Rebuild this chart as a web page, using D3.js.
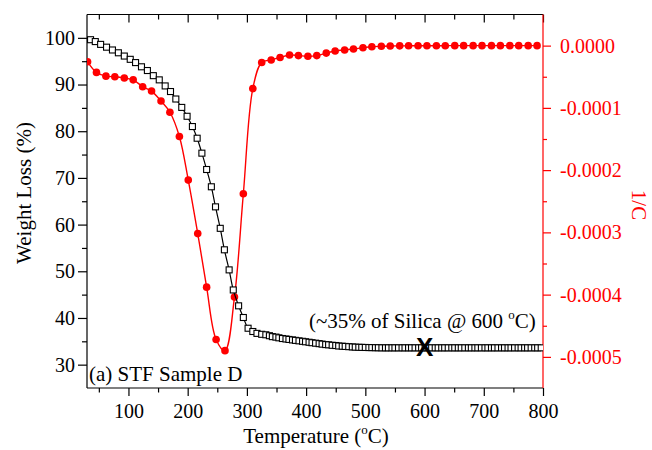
<!DOCTYPE html>
<html>
<head>
<meta charset="utf-8">
<script src="https://cdn.jsdelivr.net/npm/d3@7"></script>
<style>
  body { margin: 0; background: #fff; }
  svg { display: block; }
  text { font-family: "Liberation Serif", "Times New Roman", serif; }
</style>
</head>
<body>
<svg id="chart" width="652" height="450"></svg>
<script>
// TGA weight loss (left axis) and its derivative (right axis) vs temperature
const weightTemp = [36,44,53,63,73,83,93,103,112,122,132,142,152,162,171,180,190,199,208,216,224,232,240,247,255,262,270,277,286,294,302,310,317,325,332,
  338,343,349,354,360,366,371,377,382,388,
  394,399,405,410,416,422,427,433,438,444,
  450,455,461,466,472,478,483,489,494,500,
  506,511,517,522,528,534,539,545,550,556,
  562,567,573,578,584,590,595,601,606,612,
  618,623,629,634,640,646,651,657,662,668,
  674,679,685,690,696,702,707,713,718,724,
  730,735,741,746,752,758,763,769,774,780,
  786,791,797];
const weightVal = [99.6,99.2,98.6,98.0,97.4,96.8,96.1,95.4,94.7,93.8,93.0,91.9,91.0,89.7,88.5,86.9,85.1,83.2,81.0,78.5,75.3,71.8,68.1,63.8,59.2,54.6,50.3,46.0,42.6,40.1,37.8,37.1,36.7,36.5,36.4,
  36.2,36.0,35.9,35.75,35.6,35.5,35.4,35.3,35.2,35.1,
  35.0,34.9,34.8,34.7,34.6,34.5,34.4,34.3,34.25,34.15,
  34.1,34.0,33.95,33.9,33.85,33.8,33.75,33.72,33.7,33.68,
  33.66,33.65,33.63,33.62,33.6,33.6,33.6,33.6,33.6,33.6,
  33.6,33.6,33.6,33.6,33.6,33.6,33.6,33.6,33.6,33.6,
  33.6,33.6,33.6,33.6,33.6,33.6,33.6,33.6,33.6,33.6,
  33.6,33.6,33.6,33.6,33.6,33.6,33.6,33.6,33.6,33.6,
  33.6,33.6,33.6,33.6,33.6,33.6,33.6,33.6,33.6,33.6,
  33.6,33.6,33.6];

const derivTemp = [31,46,62,77,93,108,124,139,155,170,186,201,217,232,248,263,279,294,310,325,341,356,372,387,403,418,434,449,465,480,496,511,527,542,558,573,589,604,620,635,651,666,682,697,713,728,744,759,775,790];
const derivVal = [-0.000026,-0.000043,-0.000049,-0.000050,-0.000052,-0.000055,-0.000066,-0.000073,-0.000089,-0.000107,-0.000146,-0.000216,-0.000302,-0.000388,-0.000472,-0.000490,-0.000404,-0.000238,-0.000069,-0.000027,-0.000023,-0.000019,-0.000015,-0.000016,-0.000017,-0.000016,-0.000012,-0.0000086,-0.000007,-0.0000054,-0.0000033,-0.0000017,-0.0000011,-0.0000006,-0.0000004,-0.0000003,-0.0000002,-0.0000002,-0.0000001,-0.0000001,0,0,0,0,0,0,0,0,0,0];

const xMajor = [100,200,300,400,500,600,700,800];
const xMinor = [50,150,250,350,450,550,650,750];
const yLeftMajor = [30,40,50,60,70,80,90,100];
const yLeftMinor = [35,45,55,65,75,85,95];
const yRightMajor = [0,-0.0001,-0.0002,-0.0003,-0.0004,-0.0005];
const yRightMinor = [-0.00005,-0.00015,-0.00025,-0.00035,-0.00045];

const silicaMark = [600, 33.85];

(function () {
  const mLeft = 87, mRight = 543, mTop = 14.5, mBottom = 388;
  const red = "#ff0000";

  const svg = d3.select("#chart");
  const x = d3.scaleLinear().domain([30, 800]).range([mLeft, mRight]);
  const yL = d3.scaleLinear().domain([25, 105]).range([mBottom, mTop]);
  const yR = d3.scaleLinear().domain([-0.00055, 0.00005]).range([mBottom, mTop]);

  svg.append("defs").append("clipPath").attr("id", "plotClip")
    .append("rect").attr("x", mLeft).attr("y", mTop).attr("width", mRight - mLeft).attr("height", mBottom - mTop);

  function styleAxis(g, color) {
    g.select(".domain").remove();
    g.selectAll("line").attr("stroke", color).attr("stroke-width", 1.2);
    g.selectAll("text").attr("fill", color).attr("font-size", 20)
      .style("font-family", '"Liberation Serif", "Times New Roman", serif');
  }

  // bottom axis
  const gB = svg.append("g").attr("transform", `translate(0,${mBottom})`)
    .call(d3.axisBottom(x).tickValues(xMajor).tickSize(8).tickPadding(6).tickFormat(d3.format("d")));
  styleAxis(gB, "#000");
  gB.selectAll("text").attr("dy", "0.71em").attr("y", 16);
  const gBm = svg.append("g").attr("transform", `translate(0,${mBottom})`)
    .call(d3.axisBottom(x).tickValues(xMinor).tickSize(4.5).tickFormat(""));
  styleAxis(gBm, "#000");

  // top mirror axis, ticks pointing inward
  const gT = svg.append("g").attr("transform", `translate(0,${mTop})`)
    .call(d3.axisBottom(x).tickValues(xMajor).tickSize(8).tickFormat(""));
  styleAxis(gT, "#000");
  const gTm = svg.append("g").attr("transform", `translate(0,${mTop})`)
    .call(d3.axisBottom(x).tickValues(xMinor).tickSize(5).tickFormat(""));
  styleAxis(gTm, "#000");

  // left axis
  const gL = svg.append("g").attr("transform", `translate(${mLeft},0)`)
    .call(d3.axisLeft(yL).tickValues(yLeftMajor).tickSize(9).tickPadding(3).tickFormat(d3.format("d")));
  styleAxis(gL, "#000");
  const gLm = svg.append("g").attr("transform", `translate(${mLeft},0)`)
    .call(d3.axisLeft(yL).tickValues(yLeftMinor).tickSize(5).tickFormat(""));
  styleAxis(gLm, "#000");

  // right axis (derivative)
  const gR = svg.append("g").attr("transform", `translate(${mRight},0)`)
    .call(d3.axisRight(yR).tickValues(yRightMajor).tickSize(8).tickPadding(9).tickFormat(d => d.toFixed(4)));
  styleAxis(gR, red);
  const gRm = svg.append("g").attr("transform", `translate(${mRight},0)`)
    .call(d3.axisRight(yR).tickValues(yRightMinor).tickSize(4).tickFormat(""));
  styleAxis(gRm, red);

  // frame lines
  const frame = (x1, y1, x2, y2, c) => svg.append("line")
    .attr("x1", x1).attr("y1", y1).attr("x2", x2).attr("y2", y2)
    .attr("stroke", c).attr("stroke-width", 1.2);
  frame(mLeft, mTop, mRight, mTop, "#000");
  frame(mLeft, mBottom, mRight, mBottom, "#000");
  frame(mLeft, mTop, mLeft, mBottom, "#000");
  frame(mRight, mTop, mRight, mBottom, red);

  const plot = svg.append("g").attr("clip-path", "url(#plotClip)");

  // derivative curve
  const derivData = derivTemp.map((t, i) => [t, derivVal[i]]);
  plot.append("path").datum(derivData)
    .attr("fill", "none").attr("stroke", red).attr("stroke-width", 1.4)
    .attr("d", d3.line().x(d => x(d[0])).y(d => yR(d[1])).curve(d3.curveCatmullRom));
  plot.selectAll("circle.deriv").data(derivData).join("circle")
    .attr("class", "deriv")
    .attr("cx", d => x(d[0])).attr("cy", d => yR(d[1])).attr("r", 3.8)
    .attr("fill", red);

  // weight curve
  const weightData = weightTemp.map((t, i) => [t, weightVal[i]]);
  plot.append("path").datum(weightData)
    .attr("fill", "none").attr("stroke", "#000").attr("stroke-width", 1.2)
    .attr("d", d3.line().x(d => x(d[0])).y(d => yL(d[1])).curve(d3.curveCatmullRom));
  const sq = 6;
  plot.selectAll("rect.weight").data(weightData).join("rect")
    .attr("class", "weight")
    .attr("x", d => x(d[0]) - sq / 2).attr("y", d => yL(d[1]) - sq / 2)
    .attr("width", sq).attr("height", sq)
    .attr("fill", "#fff").attr("stroke", "#000").attr("stroke-width", 1.1);

  // residue marker
  svg.append("text")
    .attr("x", x(silicaMark[0])).attr("y", yL(silicaMark[1]))
    .attr("text-anchor", "middle").attr("dominant-baseline", "central")
    .style("font-family", '"Liberation Sans", Arial, sans-serif')
    .attr("font-weight", "bold").attr("font-size", 26).text("X");

  // annotations
  const ann = svg.append("text").attr("x", 309).attr("y", 328).attr("font-size", 21);
  ann.append("tspan").text("(~35% of Silica @ 600 ");
  ann.append("tspan").attr("font-size", 13).attr("dy", -9).text("o");
  ann.append("tspan").attr("dy", 9).text("C)");

  svg.append("text").attr("x", 89).attr("y", 381).attr("font-size", 21).text("(a) STF Sample D");

  // axis titles
  const xt = svg.append("text").attr("x", 316).attr("y", 443).attr("text-anchor", "middle").attr("font-size", 21);
  xt.append("tspan").text("Temperature (");
  xt.append("tspan").attr("font-size", 13).attr("dy", -9).text("o");
  xt.append("tspan").attr("dy", 9).text("C)");

  svg.append("text").attr("transform", "translate(31,193) rotate(-90)")
    .attr("text-anchor", "middle").attr("font-size", 21).text("Weight Loss (%)");

  svg.append("text").attr("transform", "translate(632,205) rotate(90)")
    .attr("text-anchor", "middle").attr("font-size", 21).attr("fill", red).text("1/C");
})();
</script>
</body>
</html>
